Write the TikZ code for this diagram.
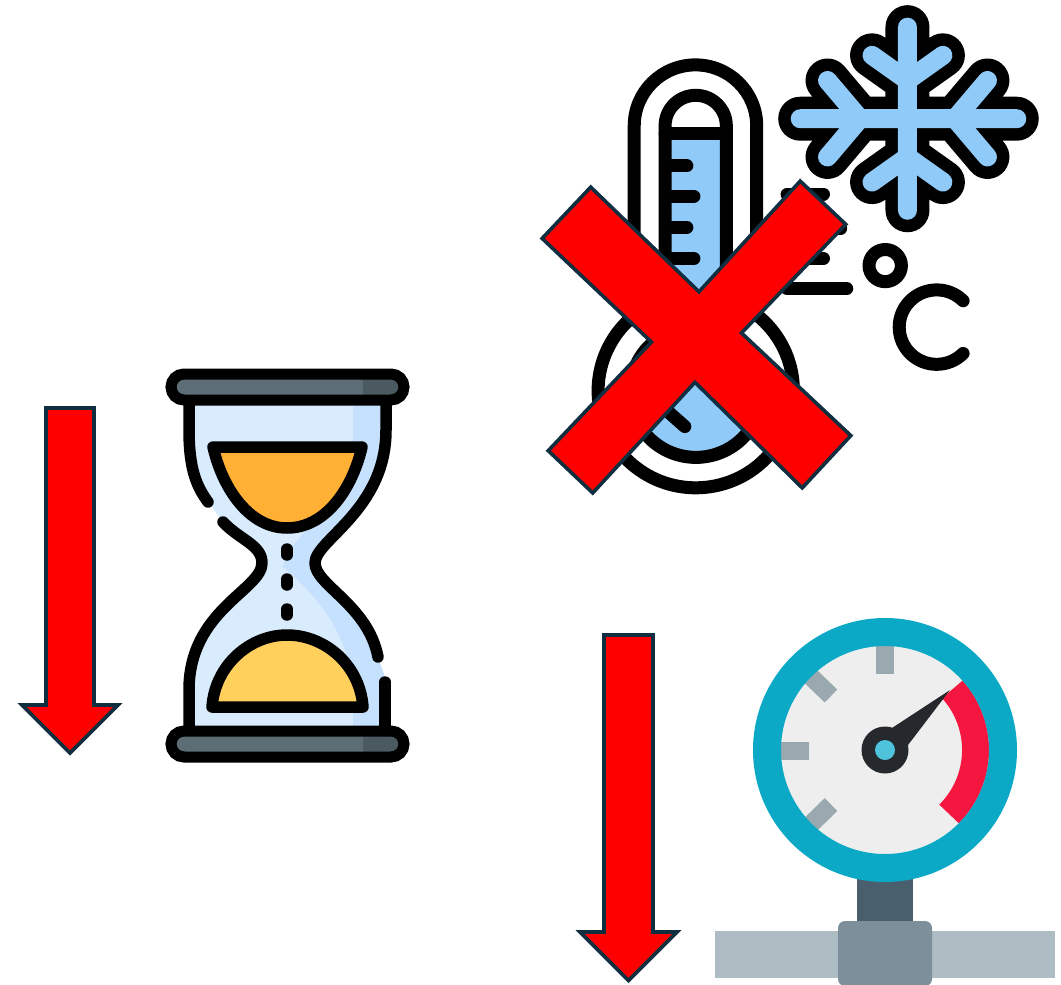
\documentclass[tikz,border=0pt]{standalone}
\usepackage{tikz}
\usepackage{xcolor}
\definecolor{arrowred}{HTML}{FF0000}
\definecolor{arrowedge}{HTML}{0F2E3F}
\definecolor{iceblue}{HTML}{90CAF9}
\definecolor{glasslight}{HTML}{D9ECFD}
\definecolor{glassdark}{HTML}{C5E1FD}
\definecolor{barlight}{HTML}{5D6D75}
\definecolor{bardark}{HTML}{4A5A60}
\definecolor{sandtop}{HTML}{FFB035}
\definecolor{sandlow}{HTML}{FFD15C}
\definecolor{ringblue}{HTML}{0BA9C5}
\definecolor{facegrey}{HTML}{EEEEEE}
\definecolor{tickgrey}{HTML}{9AA8B0}
\definecolor{gaugered}{HTML}{F5163F}
\definecolor{needledark}{HTML}{25292E}
\definecolor{hubcyan}{HTML}{4FC3DC}
\definecolor{stemdark}{HTML}{4A5F6E}
\definecolor{pipegrey}{HTML}{AEBCC3}
\definecolor{flangegrey}{HTML}{7C8F9B}
\begin{document}
\begin{tikzpicture}[
	x=1pt,
	y=-1pt,
	redmark/.style={draw=arrowedge,fill=arrowred,line width=3.6pt,line join=miter,miter limit=10},
	inkline/.style={draw=black,line width=13pt,line cap=round,line join=round},
	glassline/.style={draw=black,line width=11.5pt,line cap=round,line join=round},
	gaugetick/.style={draw=tickgrey,line width=18pt}
	]
	
	\useasboundingbox (0,0) rectangle (1061,985);
	
	\begin{scope}[xshift=-6.36pt,xscale=1.012,yscale=1.006]
	% thermometer
	\path[fill=white] (633,313) -- (633,125) arc[start angle=180,end angle=0,radius=60.5pt] -- (754,313) arc[start angle=51.4,end angle=-231.4,radius=96.5pt] -- cycle;
	\path[fill=iceblue] (663.5,332) -- (663.5,125) arc[start angle=180,end angle=0,radius=30.25pt] -- (724,332) arc[start angle=62.5,end angle=-242.5,radius=65pt] -- cycle;
	\path[fill=white] (663.5,133) -- (663.5,125) arc[start angle=180,end angle=0,radius=30.25pt] -- (724,133) -- cycle;
	\draw[inkline] (633,313) -- (633,125) arc[start angle=180,end angle=0,radius=60.5pt] -- (754,313) arc[start angle=51.4,end angle=-231.4,radius=96.5pt];
	\draw[inkline] (663.5,332) -- (663.5,125) arc[start angle=180,end angle=0,radius=30.25pt] -- (724,332) arc[start angle=62.5,end angle=-242.5,radius=65pt];
	\draw[inkline] (663.5,133) -- (724,133);
	\draw[inkline] (665,165) -- (685,165);
	\draw[inkline] (665,195) -- (692,195);
	\draw[inkline] (665,226) -- (685,226);
	\draw[inkline] (665,257) -- (692,257);
	\draw[inkline] (665,408) -- (683,424);
	\draw[inkline] (784,193) -- (820,193);
	\draw[inkline] (784,227) -- (837,227);
	\draw[inkline] (784,257) -- (820,257);
	\draw[inkline] (784,287) -- (843,287);
	
	% snowflake
	\foreach \wd/\col in {44/black,19/iceblue}
	{
		\draw[draw=\col,line width=\wd pt,line cap=round,line join=round]
		(903,27) -- (903,209)
		(797,118) -- (1011,118)
		(868,55) -- (903,80) -- (938,55)
		(868,181) -- (903,156) -- (938,181)
		(824,80) -- (856,118) -- (824,156)
		(982,80) -- (950,118) -- (982,156);
	}
	
	% degree sign
	\draw[inkline] (881,264) circle[radius=16pt];
	\draw[inkline] (958,299) arc[start angle=45,end angle=315,radius=37pt];
	
	% red cross
	\draw[redmark] (590,186) -- (697,290) -- (797,180) -- (842,223) -- (739,331) -- (847,433) -- (799,485) -- (693,380) -- (592,490) -- (548,448) -- (650,340) -- (542,237) -- cycle;
	\end{scope}
	
	% hourglass
	\def\glasspath{(189,400) -- (189,430) .. controls (189,470) and (197,487) .. (208,502) -- (223,522) .. controls (240,540) and (262,545) .. (262,563) .. controls (262,590) and (189,610) .. (189,690) -- (189,735) -- (386,735) -- (386,680) -- (378,657) .. controls (368,605) and (315,585) .. (315,563) .. controls (315,540) and (386,510) .. (386,430) -- (386,400) -- cycle}
	\path[fill=glasslight] \glasspath;
	\begin{scope}
		\clip \glasspath;
		\path[fill=glassdark] (353,400) -- (353,470) .. controls (345,510) and (290,530) .. (283,567) .. controls (310,590) and (353,630) .. (353,700) -- (353,740) -- (400,740) -- (400,400) -- cycle;
	\end{scope}
	\draw[glassline] (189,405) -- (189,430) .. controls (189,470) and (197,487) .. (208,502);
	\draw[glassline] (223,522) .. controls (240,540) and (262,545) .. (262,563) .. controls (262,590) and (189,610) .. (189,690) -- (189,728);
	\draw[glassline] (378,657) .. controls (368,605) and (315,585) .. (315,563) .. controls (315,540) and (386,510) .. (386,430) -- (386,405);
	\draw[glassline] (385,682) -- (385,728);
	\draw[glassline,fill=sandtop] (213,447) -- (362,447) .. controls (352,490) and (325,528) .. (287,528) .. controls (250,528) and (223,490) .. (213,447) -- cycle;
	\draw[glassline,fill=sandlow] (212,707) .. controls (215,665) and (250,635) .. (287,635) .. controls (325,635) and (360,665) .. (363,707) -- cycle;
	\draw[glassline] (287,549) -- (287,555);
	\draw[glassline] (287,579) -- (287,585);
	\draw[glassline] (287,609) -- (287,615);
	\foreach \ytop in {374,731}
	{
		\path[fill=barlight,rounded corners=13pt] (171,\ytop) rectangle ++(233,26);
		\begin{scope}
			\clip[rounded corners=13pt] (171,\ytop) rectangle ++(233,26);
			\path[fill=bardark] (363,\ytop) rectangle ++(45,26);
		\end{scope}
		\draw[draw=black,line width=11pt,rounded corners=13pt] (171,\ytop) rectangle ++(233,26);
	}
	
	% left arrow
	\draw[redmark] (46,408) -- (94,408) -- (94,705) -- (118,705) -- (70,753) -- (22,705) -- (46,705) -- cycle;
	
	% pressure gauge
	\path[fill=stemdark] (857,875) rectangle (913,930);
	\path[fill=pipegrey] (715,931) rectangle (1055,978);
	\path[fill=flangegrey,rounded corners=7pt] (838,921) rectangle (932,986);
	\path[fill=facegrey] (885,750) circle[radius=106pt];
	\draw[gaugetick] (885,645) -- (885,674);
	\draw[gaugetick] (780,751) -- (809,751);
	\draw[gaugetick] (805,671) -- (831,696);
	\draw[gaugetick] (805,830) -- (831,804.5);
	\draw[draw=gaugered,line width=27pt] (952.3,689.4) arc[start angle=42,end angle=-45,radius=90.5pt];
	\draw[draw=ringblue,line width=28pt] (885,750) circle[radius=118pt];
	\path[fill=needledark] (892,728) -- (950,690) -- (908,745) -- cycle;
	\path[fill=needledark] (885,750) circle[radius=23.5pt];
	\path[fill=hubcyan] (885,750) circle[radius=10pt];
	
	% right arrow
	\draw[redmark] (604,635) -- (653,635) -- (653,932) -- (677,932) -- (628.5,980.5) -- (580,932) -- (604,932) -- cycle;
	
\end{tikzpicture}
\end{document}
